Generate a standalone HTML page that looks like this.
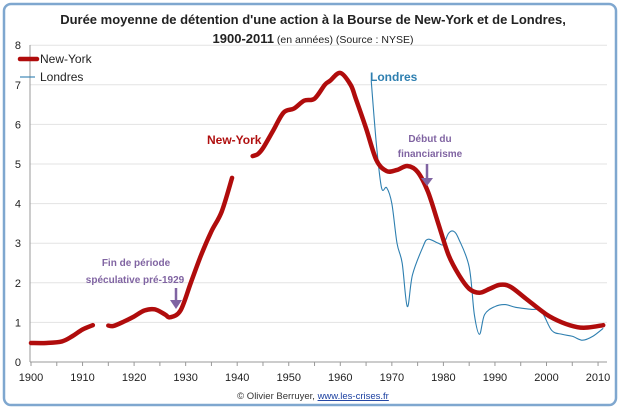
<!DOCTYPE html>
<html><head><meta charset="utf-8"><style>
body{margin:0;background:#fff;width:620px;height:410px;overflow:hidden}
text{font-family:"Liberation Sans",sans-serif}
</style></head><body>
<svg id="s" width="620" height="410" xmlns="http://www.w3.org/2000/svg">
<rect x="4" y="4" width="612" height="401" rx="7" fill="#fff" stroke="#7fa7cf" stroke-width="2.5"/>
<text x="313" y="24" text-anchor="middle" font-size="13" font-weight="bold" fill="#222">Durée moyenne de détention d'une action à la Bourse de New-York et de Londres,</text>
<text x="313" y="43" text-anchor="middle" font-size="13" fill="#222"><tspan font-weight="bold">1900-2011</tspan><tspan font-size="10.5"> (en années) (Source : NYSE)</tspan></text>
<g id="grid" stroke="#e3e3e3" stroke-width="1"></g>
<line x1="30" y1="45" x2="30" y2="362" stroke="#999"/>
<line x1="30" y1="362" x2="607" y2="362" stroke="#999"/>
<g id="ticks" stroke="#999"></g>
<g id="labels" font-size="11" fill="#222"></g>
<path id="lon" fill="none" stroke="#2e7fb0" stroke-width="1.1"/>
<path id="ny1" fill="none" stroke="#b00c0c" stroke-width="4.5" stroke-linecap="round" stroke-linejoin="round"/>
<path id="ny2" fill="none" stroke="#b00c0c" stroke-width="4.5" stroke-linecap="round" stroke-linejoin="round"/>
<path id="ny3" fill="none" stroke="#b00c0c" stroke-width="4.5" stroke-linecap="round" stroke-linejoin="round"/>
<line x1="20" y1="59" x2="37" y2="59" stroke="#b00c0c" stroke-width="4.5" stroke-linecap="round"/>
<text x="40" y="63" font-size="12" fill="#222">New-York</text>
<line x1="20" y1="77" x2="35" y2="77" stroke="#2e7fb0" stroke-width="1.1"/>
<text x="40" y="81" font-size="12" fill="#222">Londres</text>
<text x="207" y="144" font-size="12" font-weight="bold" fill="#b01010">New-York</text>
<text x="370" y="81" font-size="12" font-weight="bold" fill="#2e7fb0">Londres</text>
<text x="430" y="142" text-anchor="middle" font-size="10" font-weight="bold" fill="#8064a2">Début du</text>
<text x="430" y="157" text-anchor="middle" font-size="10" font-weight="bold" fill="#8064a2">financiarisme</text>
<line x1="427" y1="164" x2="427" y2="180" stroke="#8064a2" stroke-width="2.5"/>
<path d="M421,178 L427,186 L433,178 Z" fill="#8064a2"/>
<text x="136" y="266" text-anchor="middle" font-size="10" font-weight="bold" fill="#8064a2">Fin de période</text>
<text x="135" y="283" text-anchor="middle" font-size="10" font-weight="bold" fill="#8064a2">spéculative pré-1929</text>
<line x1="176" y1="288" x2="176" y2="302" stroke="#8064a2" stroke-width="2.5"/>
<path d="M170,300 L176,309 L182,300 Z" fill="#8064a2"/>
<text x="313" y="399" text-anchor="middle" font-size="9.5" fill="#333">© Olivier Berruyer, <tspan fill="#1a3fa0" text-decoration="underline">www.les-crises.fr</tspan></text>
</svg>
<script>
var X=function(y){return 31+(y-1900)*5.155},Y=function(v){return 362-v*39.6};
var g=document.getElementById('grid'),t=document.getElementById('ticks'),l=document.getElementById('labels'),ns='http://www.w3.org/2000/svg';
function el(p,n,a,tx){var e=document.createElementNS(ns,n);for(var k in a)e.setAttribute(k,a[k]);if(tx!=null)e.textContent=tx;p.appendChild(e);}
for(var i=0;i<=8;i++){if(i>0)el(g,'line',{x1:30,x2:607,y1:Y(i),y2:Y(i)});el(l,'text',{x:21,y:Y(i)+4,'text-anchor':'end'},i);}
for(var y=1900;y<=2010;y+=5){el(t,'line',{x1:X(y),x2:X(y),y1:362,y2:366});if(y%10==0)el(l,'text',{x:X(y),y:381,'text-anchor':'middle'},y);}
function path(d){var p=d.map(function(a){return[X(a[0]),Y(a[1])]});var s='M'+p[0][0]+','+p[0][1];
for(var i=0;i<p.length-1;i++){var p0=p[i-1]||p[i],p1=p[i],p2=p[i+1],p3=p[i+2]||p2;
s+=' C'+(p1[0]+(p2[0]-p0[0])/6)+','+(p1[1]+(p2[1]-p0[1])/6)+' '+(p2[0]-(p3[0]-p1[0])/6)+','+(p2[1]-(p3[1]-p1[1])/6)+' '+p2[0]+','+p2[1];}return s;}
document.getElementById('ny1').setAttribute('d',path([[1900,0.48],[1903,0.48],[1906,0.52],[1908,0.65],[1910,0.82],[1912,0.93]]));
document.getElementById('ny2').setAttribute('d',path([[1915,0.92],[1916,0.91],[1918,1.02],[1920,1.15],[1922,1.3],[1924,1.33],[1926,1.2],[1927,1.13],[1929,1.3],[1931,2.0],[1933,2.7],[1935,3.3],[1937,3.8],[1939,4.65]]));
document.getElementById('ny3').setAttribute('d',path([[1943,5.2],[1944,5.25],[1945,5.4],[1947,5.85],[1949,6.3],[1951,6.4],[1953,6.6],[1955,6.65],[1957,7.0],[1958,7.1],[1960,7.3],[1962,7.0],[1963,6.65],[1965,5.9],[1967,5.1],[1969,4.82],[1971,4.85],[1973,4.95],[1975,4.8],[1977,4.3],[1979,3.5],[1981,2.7],[1983,2.2],[1985,1.85],[1987,1.75],[1989,1.85],[1991,1.95],[1993,1.9],[1996,1.6],[2000,1.2],[2003,1.0],[2006,0.88],[2008,0.87],[2011,0.93]]));
document.getElementById('lon').setAttribute('d',path([[1966,7.1],[1967,5.5],[1968,4.4],[1969,4.4],[1970,4.0],[1971,3.0],[1972,2.5],[1973,1.4],[1974,2.2],[1976,2.9],[1977,3.1],[1979,3.0],[1980,2.97],[1981,3.25],[1982,3.3],[1983,3.1],[1985,2.4],[1986,1.2],[1987,0.7],[1988,1.2],[1990,1.4],[1992,1.45],[1994,1.38],[1997,1.33],[1999,1.28],[2001,0.8],[2003,0.7],[2005,0.65],[2007,0.55],[2009,0.65],[2011,0.85]]));
</script>
</body></html>
